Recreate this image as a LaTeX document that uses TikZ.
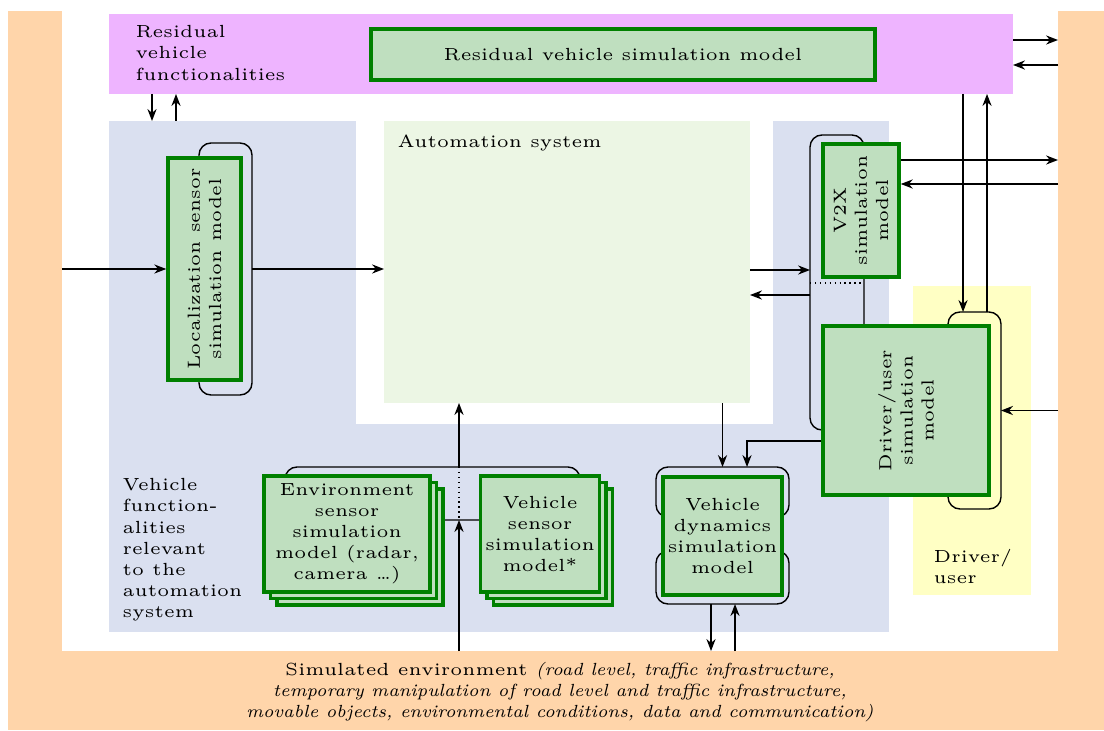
\documentclass[tikz,border=0pt]{standalone}
\usepackage{tikz}
\usetikzlibrary{positioning, arrows.meta, shadows}
\definecolor{envcol}{RGB}{255,213,170}
\definecolor{residcol}{RGB}{238,180,255}
\definecolor{vehcol}{RGB}{218,224,240}
\definecolor{autocol}{RGB}{236,246,228}
\definecolor{drivercol}{RGB}{255,255,196}

\begin{document}
\begin{tikzpicture}[region/.style={inner sep=0, outer sep=0},
    simbox/.style={draw=green!50!black, fill=green!50!black!25, line width=1pt, align=center, font=\tiny, inner sep=0},
    grp/.style={draw, rounded corners=0.12cm, inner sep=0, outer sep=0},
    lbl/.style={anchor=north west, align=left, font=\tiny, inner sep=0},
    arr/.style={-{Stealth[length=3.4pt, width=2.6pt]}},
    stack/.style={double copy shadow={shadow xshift=0.065cm, shadow yshift=-0.065cm}}]
    \useasboundingbox (0,0) rectangle (11.04,7.30);
    % Simulated environment
    \fill[envcol] (0.08,0) rectangle (11.04,7.19);
    \node[region, fill=white, minimum width=9.96cm, minimum height=6.51cm] (inner) at (5.60,4.045) {};
    \node[font=\tiny, align=center, inner sep=0] (simtext) at (5.60,0.38) {Simulated environment \textit{(road level, traffic infrastructure,}\\
        \textit{temporary manipulation of road level and traffic infrastructure,}\\
        \textit{movable objects, environmental conditions, data and communication)}};

    % Residual vehicle functionalities
    \node[region, fill=residcol, minimum width=9.04cm, minimum height=0.80cm] (resid) at (5.61,6.76) {};
    \node[lbl] (residlbl) at (1.35,7.05) {Residual\\vehicle\\functionalities};
    \node[simbox, minimum width=5.04cm, minimum height=0.51cm] (residmod) at (6.23,6.755) {Residual vehicle simulation model};

    % Vehicle functionalities and automation system
    \node[region, fill=vehcol, minimum width=7.80cm, minimum height=5.11cm] (vehfun) at (4.99,3.535) {};
    \node[region, fill=white, minimum width=4.17cm, minimum height=3.03cm] (autoframe) at (5.645,4.575) {};
    \node[region, fill=autocol, minimum width=3.66cm, minimum height=2.82cm] (auto) at (5.67,4.68) {};
    \node[lbl] (autolbl) at (3.97,5.96) {Automation system};
    \node[lbl] (vehfunlbl) at (1.22,2.52) {Vehicle\\function-\\alities\\relevant\\to the\\automation\\system};

    % Driver/user
    \node[region, fill=drivercol, minimum width=1.18cm, minimum height=3.09cm] (driverbg) at (9.72,2.895) {};
    \node[lbl] (driverlbl) at (9.33,1.81) {Driver/\\user};

    % Groups behind the models
    \node[grp, minimum width=0.53cm, minimum height=2.52cm] (locgrp) at (2.255,4.61) {};
    \node[grp, minimum width=0.54cm, minimum height=2.95cm] (v2xgrp) at (8.37,4.475) {};
    \node[grp, minimum width=0.53cm, minimum height=1.97cm] (drvgrp) at (9.745,3.195) {};
    \node[grp, minimum width=1.33cm, minimum height=0.50cm] (vdyntop) at (7.225,2.38) {};
    \node[grp, minimum width=1.33cm, minimum height=0.53cm] (vdynbot) at (7.225,1.525) {};
    \node[grp, minimum width=2.95cm, minimum height=0.53cm] (sensgrp) at (4.325,2.365) {};

    % Simulation models
    \node[simbox, rotate=90, minimum width=2.22cm, minimum height=0.73cm] (loc) at (2.045,4.61) {Localization sensor\\simulation model};
    \node[simbox, rotate=90, minimum width=1.33cm, minimum height=0.76cm] (v2x) at (8.61,5.195) {V2X\\simulation\\model};
    \node[simbox, rotate=90, minimum width=1.69cm, minimum height=1.66cm] (driver) at (9.06,3.195) {Driver/user\\simulation\\model};
    \node[simbox, minimum width=1.19cm, minimum height=1.18cm] (vdyn) at (7.225,1.94) {Vehicle\\dynamics\\simulation\\model};
    \node[simbox, stack, minimum width=1.66cm, minimum height=1.16cm] (envsens) at (3.47,1.96) {Environment\\sensor\\simulation\\model (radar,\\camera \dots)};
    \node[simbox, stack, minimum width=1.19cm, minimum height=1.16cm] (vehsens) [right=0.47cm of envsens] {Vehicle\\sensor\\simulation\\model*};

    % Signal levels
    \coordinate (rdown) at (1.52,6.2);
    \coordinate (rup) at (1.76,6.2);
    \coordinate (rout) at (10.3,6.90);
    \coordinate (rin) at (10.3,6.65);
    \coordinate (vout) at (10,5.70);
    \coordinate (vin) at (10,5.46);
    \coordinate (a2v) at (8,4.60);
    \coordinate (v2a) at (8,4.35);
    \coordinate (v2xcut) at (8.4,4.47);
    \coordinate (ddown) at (9.63,5);
    \coordinate (dup) at (9.87,5);
    \coordinate (d2v) at (7.47,2.89);
    \coordinate (vdout) at (7.11,1);
    \coordinate (vdin) at (7.35,1);
    \coordinate (senstap) at (4.59,2.4);

    % Connections
    \draw[arr] (resid.south -| rdown) -- (vehfun.north -| rdown);
    \draw[arr] (vehfun.north -| rup) -- (resid.south -| rup);
    \draw[arr] (resid.east |- rout) -- (inner.east |- rout);
    \draw[arr] (inner.east |- rin) -- (resid.east |- rin);
    \draw[arr] (resid.south -| ddown) -- (drvgrp.north -| ddown);
    \draw[arr] (drvgrp.north -| dup) -- (resid.south -| dup);
    \draw[arr] (inner.west |- loc) -- (loc.north);
    \draw[arr] (locgrp.east) -- (auto.west |- locgrp.east);
    \draw[arr] (auto.east |- a2v) -- (v2xgrp.west |- a2v);
    \draw[arr] (v2xgrp.west |- v2a) -- (auto.east |- v2a);
    \draw[densely dotted] (v2xgrp.west |- v2xcut) -- (v2xgrp.east |- v2xcut);
    \draw[arr] (v2x.south |- vout) -- (inner.east |- vout);
    \draw[arr] (inner.east |- vin) -- (v2x.south |- vin);
    \draw[arr] (inner.east |- drvgrp) -- (drvgrp.east);
    \draw[arr] (auto.south -| vdyntop) -- (vdyntop.north);
    \draw[arr] (driver.north |- d2v) -| (vdyntop.north -| d2v);
    \draw[arr] (vdynbot.south -| vdout) -- (inner.south -| vdout);
    \draw[arr] (inner.south -| vdin) -- (vdynbot.south -| vdin);
    \draw[densely dotted] (sensgrp.north -| senstap) -- (sensgrp.south -| senstap);
    \draw[arr] (sensgrp.north -| senstap) -- (auto.south -| senstap);
    \draw[arr] (inner.south -| senstap) -- (sensgrp.south -| senstap);
\end{tikzpicture}
\end{document}
